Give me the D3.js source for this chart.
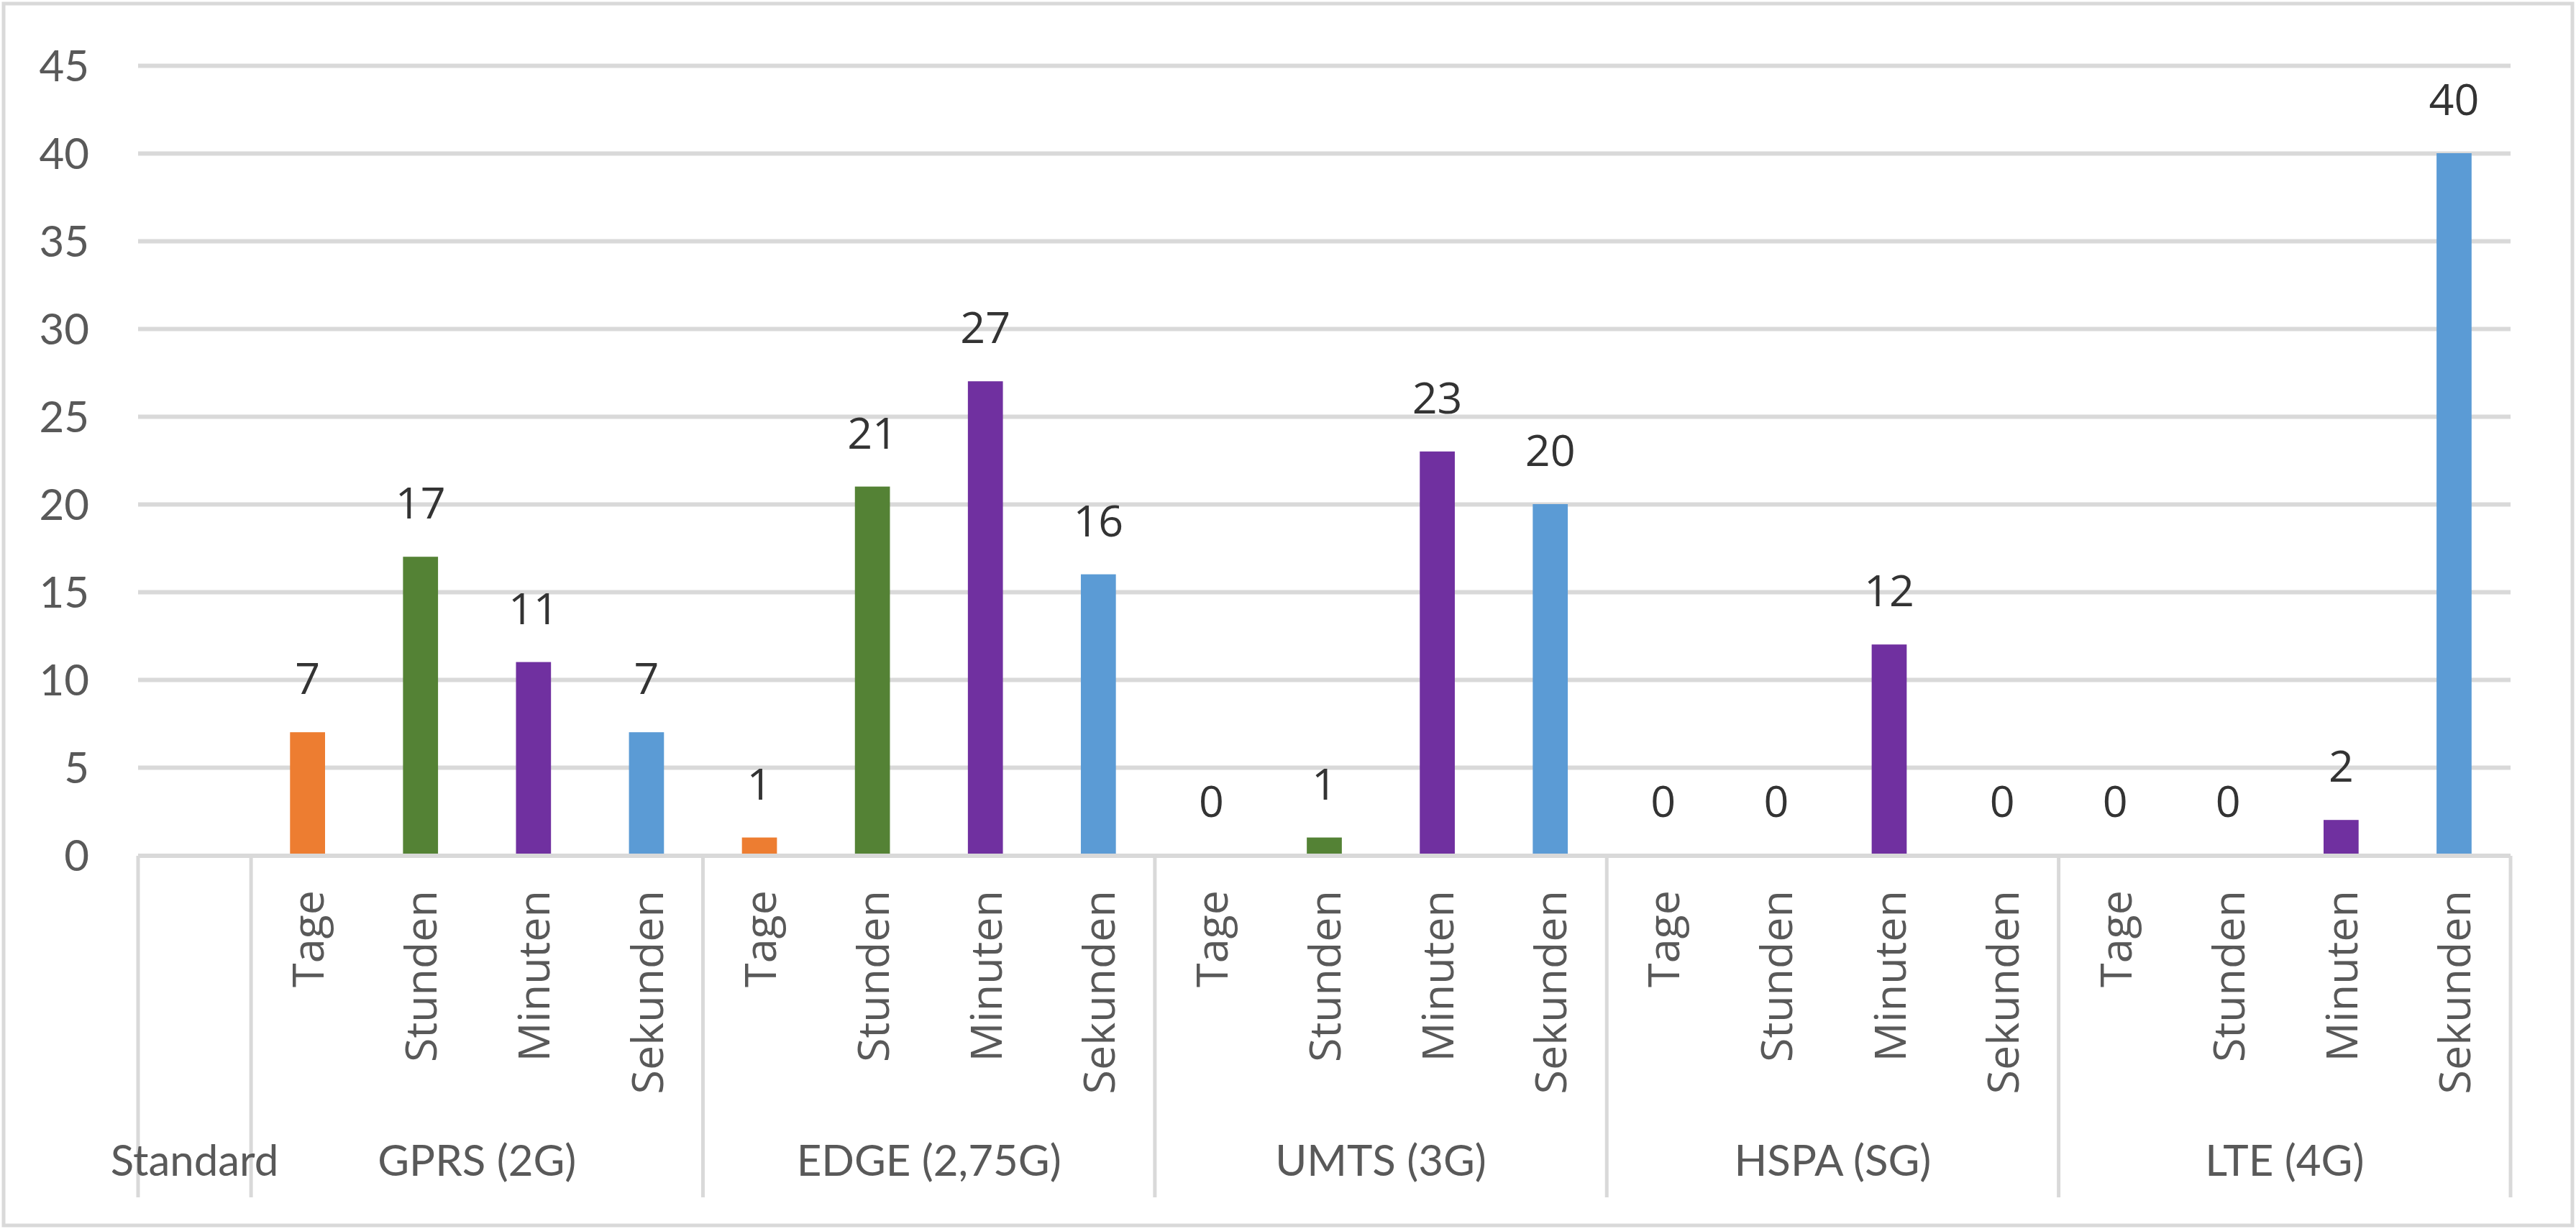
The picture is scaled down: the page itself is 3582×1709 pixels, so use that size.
<!DOCTYPE html>
<html>
<head>
<meta charset="utf-8">
<script src="https://cdn.jsdelivr.net/npm/d3@7"></script>
<style>
  html, body { margin: 0; padding: 0; background: #ffffff; }
  svg { display: block; }
</style>
</head>
<body>
<script>
// ---------- data ----------
const groups = ["GPRS (2G)", "EDGE (2,75G)", "UMTS (3G)", "HSPA (SG)", "LTE (4G)"];
const units = ["Tage", "Stunden", "Minuten", "Sekunden"];
const tage     = [7, 1, 0, 0, 0];
const stunden  = [17, 21, 1, 0, 0];
const minuten  = [11, 27, 23, 12, 2];
const sekunden = [7, 16, 20, 0, 40];
const unitColors = ["#ED7D31", "#548235", "#7030A0", "#5B9BD5"];
const yTicks = [0, 5, 10, 15, 20, 25, 30, 35, 40, 45];
const firstSlotLabel = "Standard";

// ---------- layout ----------
const W = 3582, H = 1709;
const plotLeft = 192, plotRight = 3491;
const yZero = 1189, yTop = 91;
const sepBottom = 1665;
const groupBaseline = 1635;
const rotEnd = 1238;

const series = [tage, stunden, minuten, sekunden];
const rows = [];
groups.forEach((g, gi) => {
  units.forEach((u, ui) => {
    rows.push({ key: g + "|" + u, group: g, unit: u, ui: ui, value: series[ui][gi] });
  });
});
const slotKeys = [firstSlotLabel].concat(rows.map(r => r.key));

const slot = d3.scaleBand().domain(slotKeys).range([plotLeft, plotRight]).padding(0);
const xBar = d3.scaleBand().domain(slotKeys).range([plotLeft, plotRight])
  .paddingInner(0.69).paddingOuter(0.345);
const y = d3.scaleLinear().domain([0, 45]).range([yZero, yTop]);
const color = d3.scaleOrdinal().domain(units).range(unitColors);

const svg = d3.select("body").append("svg").attr("width", W).attr("height", H);

// outer border
svg.append("rect").attr("x", 5).attr("y", 5).attr("width", W - 10).attr("height", H - 10)
  .attr("fill", "#ffffff").attr("stroke", "#d9d9d9").attr("stroke-width", 5);

const labelFont = "Lato, Carlito, Calibri, sans-serif";
const segFont = "'Open Sans', 'Noto Sans', sans-serif";

// y axis with gridlines
const yAxis = d3.axisLeft(y).tickValues(yTicks.filter(t => t > 0))
  .tickSize(-(plotRight - plotLeft)).tickPadding(68).tickFormat(d3.format("d"));
const gy = svg.append("g").attr("transform", `translate(${plotLeft},0)`).call(yAxis);
gy.select(".domain").remove();
gy.selectAll(".tick line").attr("stroke", "#d9d9d9").attr("stroke-width", 6);
gy.selectAll(".tick text").attr("font-family", labelFont).attr("font-size", 60)
  .attr("fill", "#595959").attr("dy", "0.36em");

// zero label (part of y ticks)
const yAxis0 = d3.axisLeft(y).tickValues([0]).tickSize(0).tickPadding(68).tickFormat(d3.format("d"));
const gy0 = svg.append("g").attr("transform", `translate(${plotLeft},0)`).call(yAxis0);
gy0.select(".domain").remove();
gy0.selectAll(".tick text").attr("font-family", labelFont).attr("font-size", 60)
  .attr("fill", "#595959").attr("dy", "0.36em");

// bars
svg.append("g").selectAll("rect").data(rows.filter(r => r.value > 0)).join("rect")
  .attr("x", d => xBar(d.key))
  .attr("width", xBar.bandwidth())
  .attr("y", d => y(d.value))
  .attr("height", d => y(0) - y(d.value))
  .attr("fill", d => color(d.unit));

// x axis line
svg.append("line").attr("x1", plotLeft).attr("x2", plotRight)
  .attr("y1", y(0) + 1).attr("y2", y(0) + 1)
  .attr("stroke", "#d9d9d9").attr("stroke-width", 6);

// separators
const sepX = [plotLeft, slot(rows[0].key)];
groups.forEach((g, gi) => {
  const lastKey = rows[gi * 4 + 3].key;
  sepX.push(slot(lastKey) + slot.bandwidth());
});
svg.append("g").selectAll("line").data(sepX).join("line")
  .attr("x1", d => d).attr("x2", d => d)
  .attr("y1", y(0) + 1).attr("y2", sepBottom)
  .attr("stroke", "#d9d9d9").attr("stroke-width", 5);

// data labels
svg.append("g").selectAll("text").data(rows).join("text")
  .attr("x", d => slot(d.key) + slot.bandwidth() / 2)
  .attr("y", d => y(d.value) - 53)
  .attr("text-anchor", "middle")
  .attr("font-family", segFont).attr("font-size", 61)
  .attr("fill", "#333333")
  .text(d => d.value);

// rotated unit labels
svg.append("g").selectAll("text").data(rows).join("text")
  .attr("transform", d => `translate(${slot(d.key) + slot.bandwidth() / 2},${rotEnd}) rotate(-90)`)
  .attr("text-anchor", "end")
  .attr("dy", "0.37em")
  .attr("font-family", segFont).attr("font-size", 61)
  .attr("fill", "#595959")
  .text(d => d.unit);

// group labels
svg.append("g").selectAll("text").data(groups).join("text")
  .attr("x", (g, gi) => (slot(rows[gi * 4].key) + slot(rows[gi * 4 + 3].key) + slot.bandwidth()) / 2)
  .attr("y", groupBaseline)
  .attr("text-anchor", "middle")
  .attr("font-family", labelFont).attr("font-size", 60)
  .attr("fill", "#595959")
  .text(g => g);

// first slot label
svg.append("text")
  .attr("x", slot(firstSlotLabel) + slot.bandwidth() / 2)
  .attr("y", groupBaseline)
  .attr("text-anchor", "middle")
  .attr("font-family", labelFont).attr("font-size", 60)
  .attr("fill", "#595959")
  .text(firstSlotLabel);
</script>
</body>
</html>
